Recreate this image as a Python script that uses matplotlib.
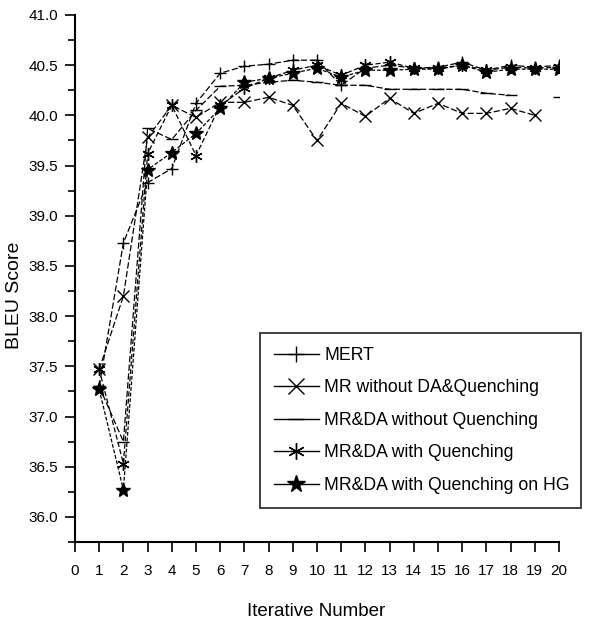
import numpy as np
import matplotlib
matplotlib.use("Agg")
import matplotlib.pyplot as plt
from matplotlib.lines import Line2D
from matplotlib.ticker import MultipleLocator, FormatStrFormatter

plt.rcParams['font.family'] = ['Liberation Sans', 'DejaVu Sans']

iterations = list(range(1, 21))
nan = np.nan
mert = [37.30, 38.73, 39.33, 39.47, 40.12, 40.42, 40.49, 40.51, 40.55, 40.55,
        40.30, 40.47, 40.50, 40.47, 40.48, 40.53, 40.45, 40.50, 40.48, 40.50]
mr_wo_da = [37.47, 38.20, 39.78, 40.10, 39.98, 40.13, 40.13, 40.18, 40.10, 39.75,
            40.12, 39.99, 40.17, 40.02, 40.12, 40.02, 40.02, 40.07, 40.00, nan]
mrda_wo_q = [37.30, 36.75, 39.87, 39.76, 40.05, 40.29, 40.30, 40.33, 40.35, 40.33,
             40.30, 40.30, 40.26, 40.26, 40.26, 40.26, 40.22, 40.20, nan, 40.18]
mrda_q = [37.47, 36.53, 39.62, 40.10, 39.60, 40.10, 40.27, 40.37, 40.45, 40.50,
          40.40, 40.50, 40.53, 40.47, 40.47, 40.50, 40.45, 40.48, 40.47, 40.48]
mrda_q_hg = [37.27, 36.27, 39.46, 39.63, 39.82, 40.07, 40.33, 40.37, 40.42, 40.47,
             40.38, 40.45, 40.45, 40.46, 40.46, 40.50, 40.43, 40.46, 40.46, 40.46]
labels = ["MERT", "MR without DA&Quenching", "MR&DA without Quenching",
          "MR&DA with Quenching", "MR&DA with Quenching on HG"]

fig = plt.figure(figsize=(5.89, 6.21), dpi=100)
ax = fig.add_axes([75/589, 1-542/621, (559-75)/589, (542-15)/621])

series = [mert, mr_wo_da, mrda_wo_q, mrda_q, mrda_q_hg]
markers = ['+', 'x', '_', (6, 2, 0), '*']
msizes = [9, 9, 9, 9, 10]
ls_list = [(0, (5, 2)), (0, (5, 2)), (0, (5, 2)), (0, (4, 2)), (0, (3, 1.5))]
handles = []
for y, m, ms, ls, lab in zip(series, markers, msizes, ls_list, labels):
    ax.plot(iterations, y, color='black', linestyle=ls, linewidth=0.9,
            marker=m, markersize=ms, markeredgewidth=1.0)
    handles.append(Line2D([], [], color='black', linestyle='-', linewidth=1.0,
                          marker=m, markersize=ms + 3, markeredgewidth=1.0))

ax.set_xlim(0, 20)
ax.set_ylim(35.75, 41.0)
ax.xaxis.set_major_locator(MultipleLocator(1))
ax.yaxis.set_major_locator(MultipleLocator(0.5))
ax.yaxis.set_minor_locator(MultipleLocator(0.25))
ax.yaxis.set_major_formatter(FormatStrFormatter('%.1f'))
ax.tick_params(axis='both', which='major', direction='out', length=7, width=1.2,
               labelsize=11)
ax.tick_params(axis='x', which='major', pad=9)
ax.tick_params(axis='y', which='major', pad=5)
ax.tick_params(axis='y', which='minor', direction='out', length=5, width=1.2)
for s in ['top', 'right']:
    ax.spines[s].set_visible(False)
for s in ['left', 'bottom']:
    ax.spines[s].set_linewidth(1.5)

ax.set_ylabel("BLEU Score", fontsize=14, va='center')
ax.yaxis.set_label_coords((15 - 75) / 484, (542 - 295) / 527)
ax.set_xlabel("Iterative Number", fontsize=13.5, va='center')
ax.xaxis.set_label_coords((316 - 75) / 484, (542 - 612) / 527)

leg = ax.legend(handles, labels, loc='lower left',
                bbox_to_anchor=(0.382, 0.0645, 0.663, 0.3355), mode='expand',
                fontsize=12.7, frameon=True, fancybox=False, edgecolor='black',
                handlelength=2.55, handletextpad=0.3, labelspacing=0.88,
                borderpad=0.8, borderaxespad=0)
leg.get_frame().set_linewidth(1.3)

fig.savefig("out.png", dpi=100, facecolor='white')
